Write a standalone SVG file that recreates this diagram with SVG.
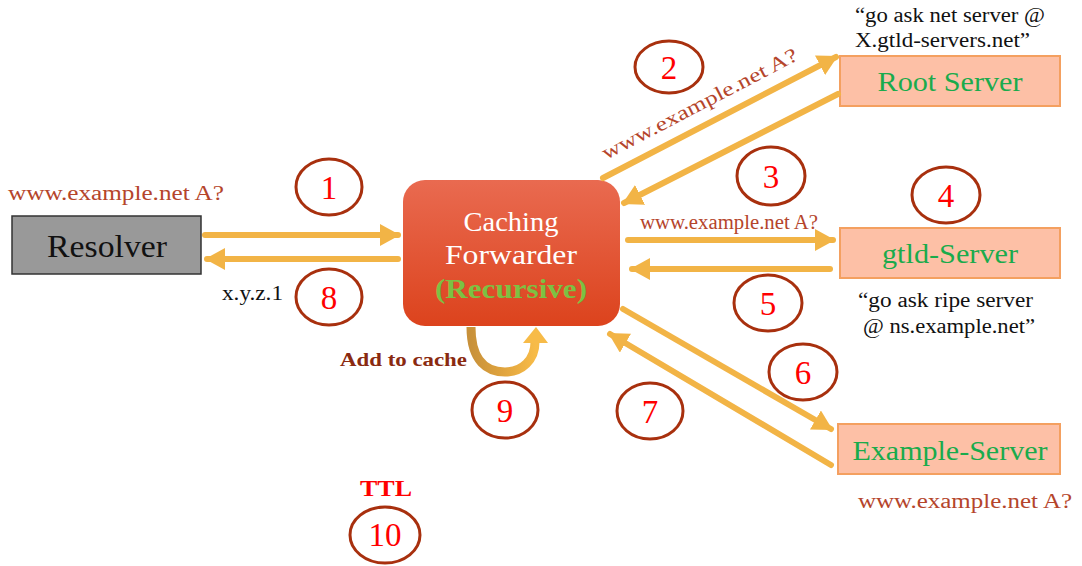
<svg xmlns="http://www.w3.org/2000/svg" width="1082" height="566" viewBox="0 0 1082 566">
<defs>
<marker id="ah" markerUnits="userSpaceOnUse" markerWidth="20" markerHeight="22" refX="18" refY="11" orient="auto">
<path d="M0,0 L20,11 L0,22 Z" fill="#f2b446"/>
</marker>
<linearGradient id="cf" x1="0" y1="0" x2="0" y2="1">
<stop offset="0" stop-color="#e96a50"/>
<stop offset="1" stop-color="#dc431d"/>
</linearGradient>
<linearGradient id="loop" x1="0" y1="0" x2="1" y2="0">
<stop offset="0" stop-color="#c8913a"/>
<stop offset="0.5" stop-color="#e0a43e"/>
<stop offset="1" stop-color="#f7bb48"/>
</linearGradient>
</defs>
<style>
text{font-family:"Liberation Serif","DejaVu Serif",serif}
.q{fill:#b5452b;font-size:20px}
.blk{fill:#111;font-size:20px}
.srv{fill:#fdc0a6;stroke:#f4a060;stroke-width:2}
.srvt{fill:#1aab4c;font-size:28px;text-anchor:middle}
.num ellipse{fill:none;stroke:#a8300e;stroke-width:3}
.num text{fill:#ff0000;font-size:33px;text-anchor:middle}
.arr{stroke:#f2b446;stroke-width:6;fill:none;stroke-linecap:round}
</style>
<rect width="1082" height="566" fill="#fff"/>

<g id="resolver">
<rect x="12" y="216" width="189" height="58" fill="#999999" stroke="#333" stroke-width="1.5"/>
<text x="107" y="257" font-size="31" fill="#111" text-anchor="middle" textLength="120" lengthAdjust="spacingAndGlyphs">Resolver</text>
</g>
<text class="q" x="8" y="200" textLength="216" lengthAdjust="spacingAndGlyphs">www.example.net A?</text>
<text class="blk" x="222" y="300" textLength="61" lengthAdjust="spacingAndGlyphs">x.y.z.1</text>

<g id="forwarder">
<rect x="403" y="180" width="217" height="146" rx="22" fill="url(#cf)"/>
<text x="511" y="231" font-size="27" fill="#fff" text-anchor="middle" textLength="95" lengthAdjust="spacingAndGlyphs">Caching</text>
<text x="511" y="264" font-size="27" fill="#fff" text-anchor="middle" textLength="132" lengthAdjust="spacingAndGlyphs">Forwarder</text>
<text x="511" y="298" font-size="27" font-weight="bold" fill="#7cc143" text-anchor="middle" textLength="152" lengthAdjust="spacingAndGlyphs">(Recursive)</text>
</g>

<g id="root-server">
<rect class="srv" x="840" y="56" width="220" height="50"/>
<text class="srvt" x="950" y="91" textLength="145" lengthAdjust="spacingAndGlyphs">Root Server</text>
</g>
<text class="blk" x="855" y="22" textLength="190" lengthAdjust="spacingAndGlyphs">“go ask net server @</text>
<text class="blk" x="855" y="47" textLength="175" lengthAdjust="spacingAndGlyphs">X.gtld-servers.net”</text>

<g id="gtld-server">
<rect class="srv" x="840" y="228" width="220" height="50"/>
<text class="srvt" x="950" y="263" textLength="136" lengthAdjust="spacingAndGlyphs">gtld-Server</text>
</g>
<text class="blk" x="858" y="307" textLength="175" lengthAdjust="spacingAndGlyphs">“go ask ripe server</text>
<text class="blk" x="863" y="333" textLength="172" lengthAdjust="spacingAndGlyphs">@ ns.example.net”</text>

<g id="example-server">
<rect class="srv" x="838" y="424" width="222" height="50"/>
<text class="srvt" x="950" y="460" textLength="195" lengthAdjust="spacingAndGlyphs">Example-Server</text>
</g>
<text class="q" x="858" y="508" textLength="214" lengthAdjust="spacingAndGlyphs">www.example.net A?</text>

<g id="connectors">
<line class="arr" x1="205" y1="235" x2="398" y2="235" marker-end="url(#ah)"/>
<line class="arr" x1="398" y1="259" x2="207" y2="259" marker-end="url(#ah)"/>
<line class="arr" x1="603" y1="178" x2="836" y2="57" marker-end="url(#ah)"/>
<line class="arr" x1="838" y1="94" x2="624" y2="203" marker-end="url(#ah)"/>
<line class="arr" x1="628" y1="240" x2="833" y2="240" marker-end="url(#ah)"/>
<line class="arr" x1="830" y1="269" x2="632" y2="269" marker-end="url(#ah)"/>
<line class="arr" x1="623" y1="309" x2="831" y2="429" marker-end="url(#ah)"/>
<line class="arr" x1="831" y1="465" x2="610" y2="334" marker-end="url(#ah)"/>
<path d="M471,327 C471,362 488,372 505,372 C522,372 535,360 535,342" stroke="url(#loop)" stroke-width="9" fill="none"/>
<path d="M523,343 L536,327 L548,343 Z" fill="#f7bb48"/>
</g>
<text class="q" x="640" y="229" font-size="17" textLength="178" lengthAdjust="spacingAndGlyphs">www.example.net A?</text>
<text class="q" transform="translate(606,160) rotate(-27.5)" font-size="21" textLength="218" lengthAdjust="spacingAndGlyphs">www.example.net A?</text>
<text x="340" y="366" font-size="19" font-weight="bold" fill="#8a2a10" textLength="127" lengthAdjust="spacingAndGlyphs">Add to cache</text>
<text x="360" y="496" font-size="24" font-weight="bold" fill="#ff0000" textLength="52" lengthAdjust="spacingAndGlyphs">TTL</text>

<g id="n1" class="num"><ellipse cx="329" cy="187" rx="33" ry="28"/><text x="329" y="199">1</text></g>
<g id="n2" class="num"><ellipse cx="669" cy="67" rx="34" ry="26"/><text x="669" y="79">2</text></g>
<g id="n3" class="num"><ellipse cx="771" cy="176" rx="34" ry="29"/><text x="771" y="188">3</text></g>
<g id="n4" class="num"><ellipse cx="946" cy="195" rx="34" ry="28"/><text x="946" y="207">4</text></g>
<g id="n5" class="num"><ellipse cx="768" cy="303" rx="34" ry="28"/><text x="768" y="315">5</text></g>
<g id="n6" class="num"><ellipse cx="803" cy="372" rx="34" ry="28"/><text x="803" y="384">6</text></g>
<g id="n7" class="num"><ellipse cx="650" cy="411" rx="33" ry="28"/><text x="650" y="423">7</text></g>
<g id="n8" class="num"><ellipse cx="329" cy="297" rx="33" ry="28"/><text x="329" y="309">8</text></g>
<g id="n9" class="num"><ellipse cx="505" cy="410" rx="33" ry="28"/><text x="505" y="422">9</text></g>
<g id="n10" class="num"><ellipse cx="385" cy="535" rx="35" ry="28"/><text x="385" y="546" font-size="26">10</text></g>
</svg>
